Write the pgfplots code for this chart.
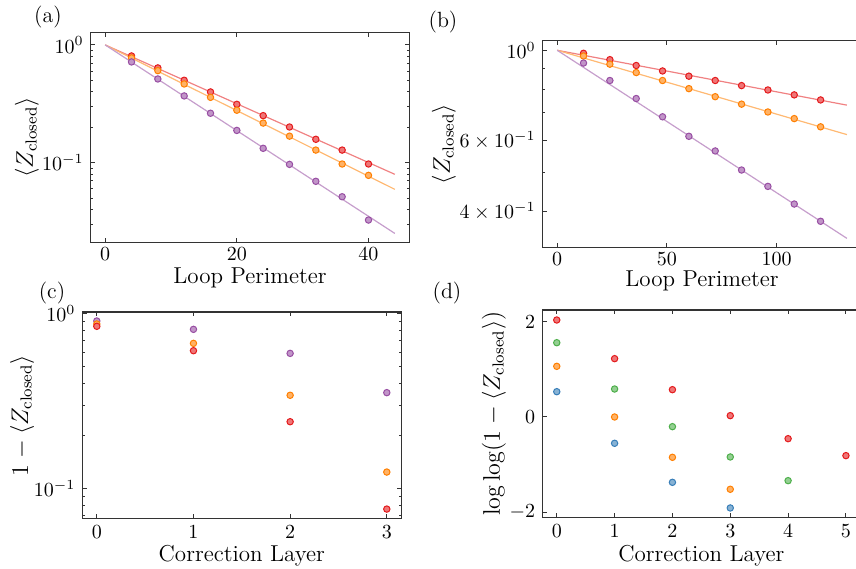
\documentclass[border=0pt]{standalone}
\usepackage{pgfplots}
\pgfplotsset{compat=1.18}
\definecolor{cred}{HTML}{E41A1C}
\definecolor{corange}{HTML}{FF7F00}
\definecolor{cpurple}{HTML}{984EA3}
\definecolor{cgreen}{HTML}{4DAF4A}
\definecolor{cblue}{HTML}{377EB8}
\pgfplotsset{
  panel/.style={
    scale only axis,
    anchor=south west,
    axis line style={draw=black!80, line width=0.6pt},
    tick style={draw=black!80, line width=0.5pt},
    major tick length=2.2pt, minor tick length=1.3pt,
    tick align=inside,
    tick label style={font=\fontsize{10}{12}\selectfont},
    label style={font=\fontsize{11.5}{13}\selectfont},
  },
  % label positions in axis description units
  labpos/.style 2 args={
    xlabel style={at={(axis description cs:0.5,#1)}, anchor=base},
    ylabel style={at={(axis description cs:#2,0.5)}, anchor=center},
  },
  pts/.style={only marks, color=#1, mark=*, mark size=1.6pt,
    mark options={fill=#1!60!white, line width=0.5pt}},
  fit/.style={no marks, draw=#1!55!white, line width=0.6pt},
}
\begin{document}
\begin{tikzpicture}
% (a)
\begin{axis}[panel, at={(45.35pt,162.85pt)}, width=159.3pt, height=105pt,
    labpos={-0.196}{-0.200}, xticklabel style={yshift=1pt},
    ymode=log, xmin=-2.2, xmax=46.2, ymin=0.0211, ymax=1.28,
    xtick={0,20,40}, ytick={0.1,1},
    minor ytick={0.03,0.04,0.05,0.06,0.07,0.08,0.09,0.2,0.3,0.4,0.5,0.6,0.7,0.8,0.9},
    xlabel={Loop Perimeter}, ylabel={$\langle Z_{\mathrm{closed}}\rangle$}]
  \addplot[fit=cred] coordinates {(0,1) (44,0.0797)};
  \addplot[fit=corange] coordinates {(0,1) (44,0.0594)};
  \addplot[fit=cpurple] coordinates {(0,1) (44,0.0251)};
  \addplot[pts=cred] coordinates {(4,0.806)(8,0.638)(12,0.501)(16,0.399)(20,0.313)
    (24,0.251)(28,0.201)(32,0.158)(36,0.128)(40,0.0975)};
  \addplot[pts=corange] coordinates {(4,0.776)(8,0.605)(12,0.466)(16,0.359)(20,0.279)
    (24,0.217)(28,0.168)(32,0.128)(36,0.0975)(40,0.0781)};
  \addplot[pts=cpurple] coordinates {(4,0.717)(8,0.514)(12,0.369)(16,0.263)(20,0.188)
    (24,0.1325)(28,0.0968)(32,0.0695)(36,0.0514)(40,0.0326)};
\end{axis}
% (b)
\begin{axis}[panel, at={(271.35pt,160.35pt)}, width=159.35pt, height=103.3pt,
    labpos={-0.192}{-0.310}, xticklabel style={yshift=1pt},
    ymode=log, xmin=-6.6, xmax=138.6, ymin=0.326, ymax=1.056,
    xtick={0,50,100}, ytick={0.4,0.6,1},
    yticklabels={$4\times10^{-1}$,$6\times10^{-1}$,$10^{0}$},
    minor ytick={0.5,0.7,0.8,0.9},
    xlabel={Loop Perimeter}, ylabel={$\langle Z_{\mathrm{closed}}\rangle$}]
  \addplot[fit=cred] coordinates {(0,1) (132,0.732)};
  \addplot[fit=corange] coordinates {(0,1) (132,0.619)};
  \addplot[fit=cpurple] coordinates {(0,1) (132,0.343)};
  \addplot[pts=cred] coordinates {(12,0.983)(24,0.948)(36,0.917)(48,0.889)(60,0.863)
    (72,0.842)(84,0.818)(96,0.798)(108,0.776)(120,0.754)};
  \addplot[pts=corange] coordinates {(12,0.968)(24,0.924)(36,0.881)(48,0.842)(60,0.804)
    (72,0.768)(84,0.736)(96,0.704)(108,0.678)(120,0.647)};
  \addplot[pts=cpurple] coordinates {(12,0.930)(24,0.842)(36,0.760)(48,0.685)(60,0.613)
    (72,0.564)(84,0.506)(96,0.461)(108,0.417)(120,0.378)};
\end{axis}
% (c)
\begin{axis}[panel, at={(41.15pt,24.65pt)}, width=159.5pt, height=103.35pt,
    labpos={-0.208}{-0.189},
    ymode=log, xmin=-0.15, xmax=3.15, ymin=0.0675, ymax=1.017,
    xtick={0,1,2,3}, ytick={0.1,1},
    minor ytick={0.07,0.08,0.09,0.2,0.3,0.4,0.5,0.6,0.7,0.8,0.9},
    xlabel={Correction Layer}, ylabel={$1-\langle Z_{\mathrm{closed}}\rangle$}]
  \addplot[pts=cpurple] coordinates {(0,0.904)(1,0.810)(2,0.591)(3,0.353)};
  \addplot[pts=corange] coordinates {(0,0.869)(1,0.674)(2,0.341)(3,0.1245)};
  \addplot[pts=cred] coordinates {(0,0.843)(1,0.612)(2,0.241)(3,0.0766)};
\end{axis}
% (d)
\begin{axis}[panel, at={(271.15pt,25.35pt)}, width=159.05pt, height=103.65pt,
    labpos={-0.214}{-0.152},
    xmin=-0.25, xmax=5.25, ymin=-2.105, ymax=2.245,
    xtick={0,1,2,3,4,5}, ytick={-2,0,2},
    xlabel={Correction Layer},
    ylabel={$\log\log(1-\langle Z_{\mathrm{closed}}\rangle)$}]
  \addplot[pts=cblue] coordinates {(0,0.531)(1,-0.552)(2,-1.371)(3,-1.909)};
  \addplot[pts=corange] coordinates {(0,1.063)(1,0.0)(2,-0.846)(3,-1.517)};
  \addplot[pts=cgreen] coordinates {(0,1.559)(1,0.587)(2,-0.203)(3,-0.839)(4,-1.336)};
  \addplot[pts=cred] coordinates {(0,2.035)(1,1.224)(2,0.573)(3,0.028)(4,-0.455)(5,-0.811)};
\end{axis}
\node[font=\fontsize{11}{13}\selectfont] at (24pt,275.5pt) {(a)};
\node[font=\fontsize{11}{13}\selectfont] at (221.5pt,273pt) {(b)};
\node[font=\fontsize{11}{13}\selectfont] at (26pt,137.5pt) {(c)};
\node[font=\fontsize{11}{13}\selectfont] at (223.5pt,137.5pt) {(d)};
\pgfresetboundingbox
\path[use as bounding box] (0,0) rectangle (428pt,284pt);
\end{tikzpicture}
\end{document}
